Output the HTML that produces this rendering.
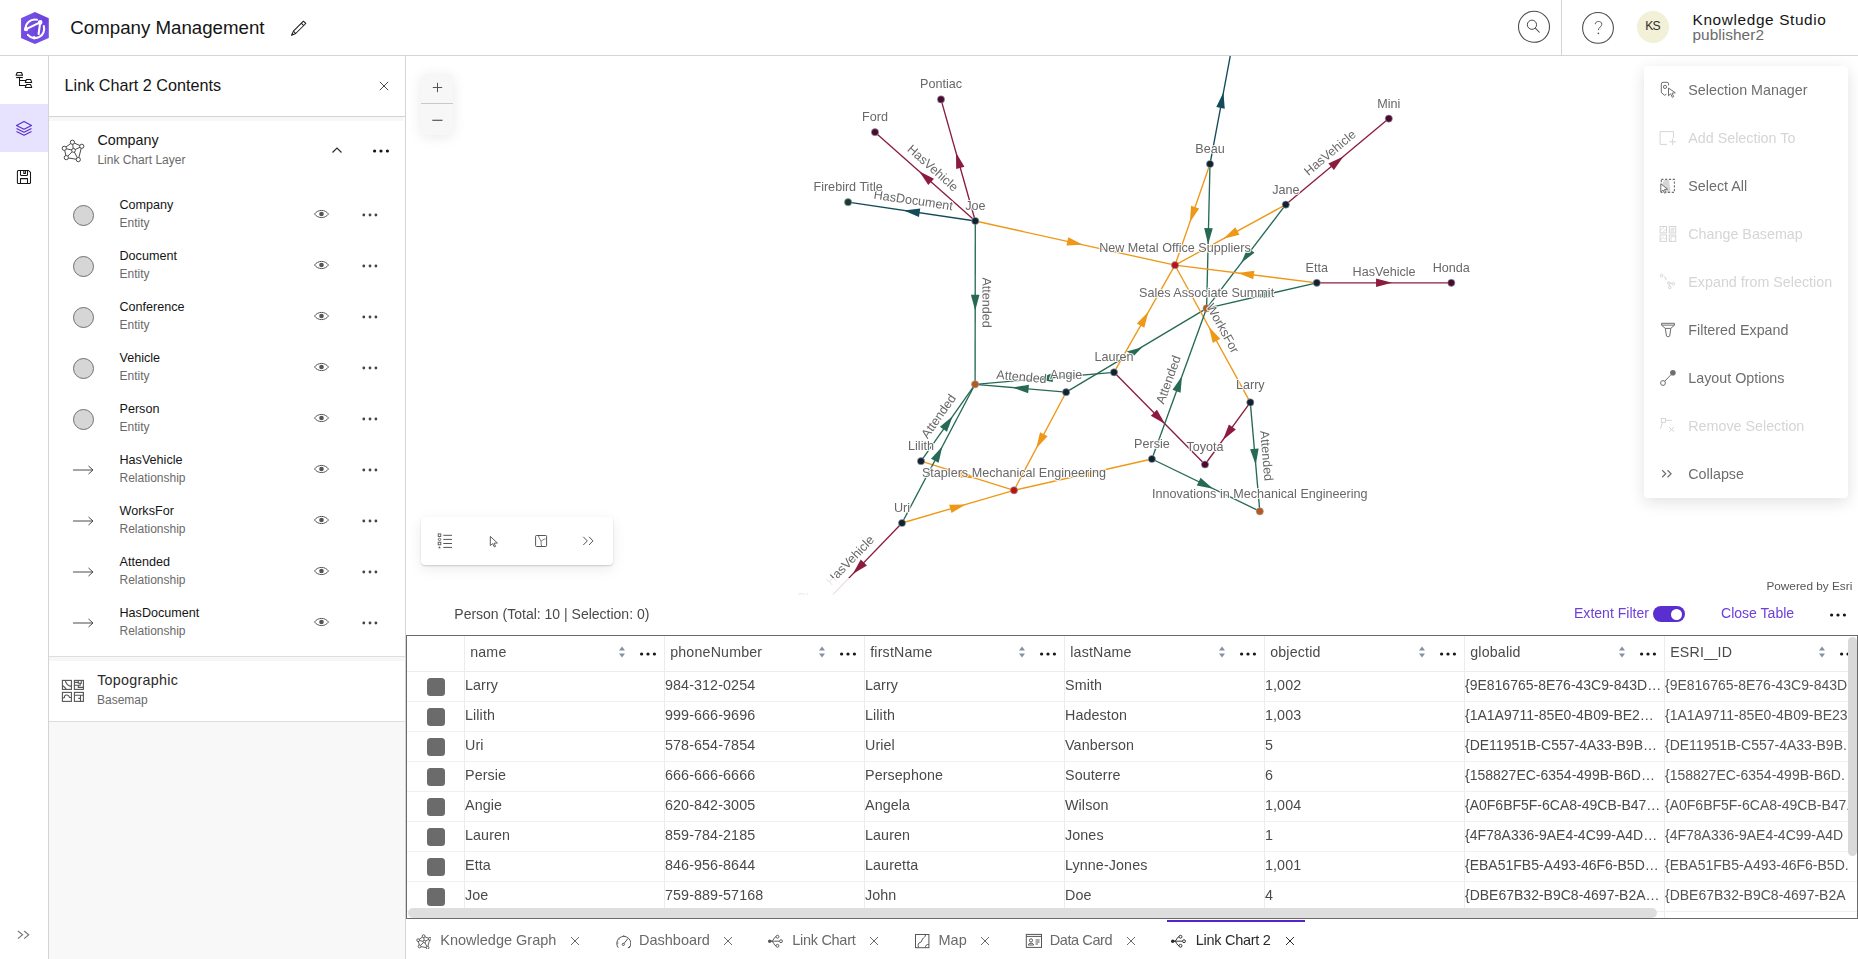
<!DOCTYPE html>
<html><head><meta charset="utf-8"><style>
html,body{margin:0;padding:0;width:1858px;height:959px;overflow:hidden;background:#fff;font-family:"Liberation Sans", sans-serif;}
.abs{position:absolute;}
.t{position:absolute;line-height:1;white-space:nowrap;}
#hdr{position:absolute;left:0;top:0;width:1858px;height:55px;border-bottom:1px solid #d4d4d4;background:#fff}
.gl{font-family:"Liberation Sans", sans-serif;font-size:12.6px;fill:#686868;paint-order:stroke;stroke:rgba(255,255,255,0.85);stroke-width:2.2px;stroke-linejoin:round}
</style></head><body>
<div id="hdr"></div>
<svg class="abs" style="left:0;top:0" width="60" height="56" viewBox="0 0 60 56">
<defs><linearGradient id="lg1" x1="0" y1="0" x2="1" y2="1"><stop offset="0" stop-color="#7752e6"/><stop offset="0.55" stop-color="#6b43dc"/><stop offset="1" stop-color="#7f58ee"/></linearGradient></defs>
<polygon points="35,12 48.8,18.2 48.8,37.9 35,44 21.1,37.9 21.1,18.2" fill="url(#lg1)"/>
<polygon points="35,12 21.1,18.2 21.1,37.9 35,44" fill="#7a55e8" opacity="0.35"/>
<g fill="none" stroke="#fff" stroke-width="2.1" stroke-linecap="round">
<path d="M25.64,29.61 A9.3,9.3 0 0 1 36.99,19.74"/>
<path d="M43.79,26.08 A9.3,9.3 0 0 1 27.88,34.9"/>
<path d="M26.1,29.1 L40.2,22.4 L38.6,34"/>
</g>
<g fill="#fff"><circle cx="26.1" cy="29.1" r="2.2"/><circle cx="40.2" cy="22.4" r="2.3"/><circle cx="34.1" cy="37.7" r="1.6"/></g>
</svg>
<div class="t" style="left:70.30px;top:19px;font-size:18.7px;color:#151515;">Company Management</div>
<svg class="abs" style="left:284px;top:14px" width="28" height="28" viewBox="0 0 28 28"><g fill="none" stroke="#1e1e1e" stroke-width="1.05" stroke-linejoin="round">
<path d="M19.4,7.2 L21.8,9.5 L11.7,19.5 L7.6,21.2 L9.4,17.1 Z"/><path d="M17.3,9.2 L19.7,11.6"/><path d="M9.4,17.1 L11.7,19.5"/></g><path d="M7.3,21.5 L8.2,19.3 L9.6,20.6 Z" fill="#1e1e1e"/></svg>
<svg class="abs" style="left:1516px;top:9px" width="36" height="36" viewBox="0 0 36 36"><circle cx="18" cy="17.8" r="15.5" fill="none" stroke="#4a4a4a" stroke-width="1.05"/>
<circle cx="15.95" cy="15.75" r="4.6" fill="none" stroke="#4a4a4a" stroke-width="1"/><path d="M19.3,19.2 L23.6,23.5" stroke="#4a4a4a" stroke-width="1.05"/></svg>
<div class="abs" style="left:1561px;top:0;width:1px;height:55px;background:#d4d4d4"></div>
<svg class="abs" style="left:1581px;top:11px" width="34" height="34" viewBox="0 0 34 34"><circle cx="17" cy="16.9" r="15.4" fill="none" stroke="#4a4a4a" stroke-width="1.05"/>
<path d="M14.2,13.2 C14.2,9.6 20.8,9.4 20.8,13.2 C20.8,15.8 17.6,16.2 17.3,19.2" fill="none" stroke="#555" stroke-width="0.95"/><circle cx="17.4" cy="22.3" r="0.85" fill="#555"/></svg>
<div class="abs" style="left:1637px;top:11px;width:32px;height:32px;border-radius:50%;background:#f2f0d6"></div>
<div class="t" style="left:1645.30px;top:20px;font-size:12.2px;color:#2e2e2e;letter-spacing:-0.9px;">KS</div>
<div class="t" style="left:1692.50px;top:12px;font-size:15.4px;color:#151515;letter-spacing:0.62px;">Knowledge Studio</div>
<div class="t" style="left:1692.50px;top:27px;font-size:15.4px;color:#6a6a6a;letter-spacing:0.05px;">publisher2</div>
<div class="abs" style="left:0;top:56px;width:48px;height:903px;background:#fff;border-right:1px solid #d4d4d4"></div>
<div class="abs" style="left:0;top:104px;width:48px;height:48px;background:#e7e2fd"></div>
<svg class="abs" style="left:12px;top:68px" width="24" height="24" viewBox="0 0 24 24"><g fill="none" stroke="#151515" stroke-width="1.05" stroke-linejoin="round">
<path d="M5.2,4.5 H9.5 L10.6,7.3 H4.1 Z"/><path d="M4.2,9.5 H10.8" stroke-width="1.2"/><path d="M7.5,9.5 V17.5 H14 M7.5,12.4 H14"/>
<path d="M14.5,11.5 H18.6 L19.7,14.4 H13.3 Z"/><path d="M14.5,16.5 H18.6 L19.7,19.4 H13.3 Z"/></g></svg>
<svg class="abs" style="left:12px;top:116px" width="24" height="24" viewBox="0 0 24 24"><g fill="none" stroke="#5a2fd0" stroke-width="1.1" stroke-linejoin="round">
<path d="M12,5.4 L19.5,9.4 L12,13.3 L4.5,9.4 Z"/><path d="M4.5,12.4 L12,16.3 L19.5,12.4"/><path d="M4.5,15.4 L12,19.3 L19.5,15.4"/></g></svg>
<svg class="abs" style="left:12px;top:165px" width="24" height="24" viewBox="0 0 24 24"><g fill="none" stroke="#151515" stroke-width="1.05" stroke-linejoin="round">
<path d="M6.4,5.5 H16.6 L18.5,7.4 V17.4 Q18.5,18.4 17.5,18.4 H6.4 Q5.4,18.4 5.4,17.4 V6.5 Q5.4,5.5 6.4,5.5 Z"/>
<path d="M8.5,5.5 V9.5 Q8.5,10.5 9.5,10.5 H14.5 Q15.5,10.5 15.5,9.5 V5.5"/><path d="M11.8,5.5 V8.4 H13.4 V5.5"/>
<path d="M8.5,18.4 V13.6 H15.5 V18.4"/></g></svg>
<svg class="abs" style="left:16px;top:929px" width="16" height="12" viewBox="0 0 16 12"><g fill="none" stroke="#7a7a7a" stroke-width="1.2"><path d="M1.9,2 L6.6,5.8 L1.9,9.6"/><path d="M8.2,2 L12.7,5.8 L8.2,9.6"/></g></svg>
<div class="abs" style="left:49px;top:56px;width:356px;height:903px;background:#f8f8f8;border-right:1px solid #d4d4d4"></div>
<div class="abs" style="left:49px;top:56px;width:356px;height:60px;background:#fff;border-bottom:1px solid #d4d4d4"></div>
<div class="abs" style="left:49px;top:117px;width:356px;height:539px;background:#fff"></div>
<div class="abs" style="left:49px;top:117px;width:355px;height:4px;background:#f7f7f7"></div>
<div class="t" style="left:64.60px;top:77px;font-size:16.2px;color:#151515;">Link Chart 2 Contents</div>
<svg class="abs" style="left:379px;top:81px" width="10" height="10" viewBox="0 0 10 10"><path d="M0.8,0.8 L9.2,9.2 M9.2,0.8 L0.8,9.2" stroke="#4a4a4a" stroke-width="1"/></svg>
<svg class="abs" style="left:58px;top:136px" width="30" height="30" viewBox="0 0 30 30"><g fill="#fff" stroke="#4a4a4a" stroke-width="1">
<path d="M14.4,6.25 L6.25,12.3 M14.4,6.25 L23.75,10.3 M14.4,6.25 L15.5,14.4 M6.25,12.3 L15.5,14.4 M6.25,12.3 L8.3,21.6 M23.75,10.3 L15.5,14.4 M23.75,10.3 L20.3,23.6 M15.5,14.4 L8.3,21.6 M15.5,14.4 L20.3,23.6 M8.3,21.6 L20.3,23.6" fill="none"/>
<circle cx="14.4" cy="6.25" r="2.1"/><circle cx="23.75" cy="10.3" r="2.1"/><circle cx="6.25" cy="12.3" r="2.1"/><circle cx="15.5" cy="14.4" r="1.9"/><circle cx="8.3" cy="21.6" r="2.1"/><circle cx="20.3" cy="23.6" r="2.1"/></g></svg>
<div class="t" style="left:97.40px;top:133px;font-size:14.3px;color:#151515;">Company</div>
<div class="t" style="left:97.40px;top:154px;font-size:12px;color:#6a6a6a;">Link Chart Layer</div>
<svg class="abs" style="left:331px;top:145px" width="12" height="10" viewBox="0 0 12 10"><path d="M1.5,7.5 L6,3 L10.5,7.5" fill="none" stroke="#2b2b2b" stroke-width="1.2"/></svg>
<svg class="abs" style="left:372px;top:148px" width="18" height="6" viewBox="0 0 18 6"><g fill="#151515"><circle cx="2.6" cy="3" r="1.6"/><circle cx="9" cy="3" r="1.6"/><circle cx="15.4" cy="3" r="1.6"/></g></svg>
<div class="abs" style="left:73.2px;top:204.8px;width:19px;height:19px;border-radius:50%;background:#d6d6d6;border:1px solid #707070"></div>
<div class="t" style="left:119.50px;top:199px;font-size:12.6px;color:#151515;">Company</div>
<div class="t" style="left:119.50px;top:217px;font-size:12px;color:#6a6a6a;">Entity</div>
<svg class="abs" style="left:312px;top:207.40px" width="19" height="14" viewBox="0 0 19 14"><path d="M2.5,7 C6,2.2 13,2.2 16.5,7 C13,11.8 6,11.8 2.5,7 Z" fill="none" stroke="#555" stroke-width="1"/><circle cx="9.5" cy="7" r="2.3" fill="#555"/></svg>
<svg class="abs" style="left:361px;top:211.80px" width="18" height="6" viewBox="0 0 18 6"><g fill="#444"><circle cx="2.8" cy="3" r="1.4"/><circle cx="9" cy="3" r="1.4"/><circle cx="14.9" cy="3" r="1.4"/></g></svg>
<div class="abs" style="left:73.2px;top:255.8px;width:19px;height:19px;border-radius:50%;background:#d6d6d6;border:1px solid #707070"></div>
<div class="t" style="left:119.50px;top:250px;font-size:12.6px;color:#151515;">Document</div>
<div class="t" style="left:119.50px;top:268px;font-size:12px;color:#6a6a6a;">Entity</div>
<svg class="abs" style="left:312px;top:258.40px" width="19" height="14" viewBox="0 0 19 14"><path d="M2.5,7 C6,2.2 13,2.2 16.5,7 C13,11.8 6,11.8 2.5,7 Z" fill="none" stroke="#555" stroke-width="1"/><circle cx="9.5" cy="7" r="2.3" fill="#555"/></svg>
<svg class="abs" style="left:361px;top:262.80px" width="18" height="6" viewBox="0 0 18 6"><g fill="#444"><circle cx="2.8" cy="3" r="1.4"/><circle cx="9" cy="3" r="1.4"/><circle cx="14.9" cy="3" r="1.4"/></g></svg>
<div class="abs" style="left:73.2px;top:306.8px;width:19px;height:19px;border-radius:50%;background:#d6d6d6;border:1px solid #707070"></div>
<div class="t" style="left:119.50px;top:301px;font-size:12.6px;color:#151515;">Conference</div>
<div class="t" style="left:119.50px;top:319px;font-size:12px;color:#6a6a6a;">Entity</div>
<svg class="abs" style="left:312px;top:309.40px" width="19" height="14" viewBox="0 0 19 14"><path d="M2.5,7 C6,2.2 13,2.2 16.5,7 C13,11.8 6,11.8 2.5,7 Z" fill="none" stroke="#555" stroke-width="1"/><circle cx="9.5" cy="7" r="2.3" fill="#555"/></svg>
<svg class="abs" style="left:361px;top:313.80px" width="18" height="6" viewBox="0 0 18 6"><g fill="#444"><circle cx="2.8" cy="3" r="1.4"/><circle cx="9" cy="3" r="1.4"/><circle cx="14.9" cy="3" r="1.4"/></g></svg>
<div class="abs" style="left:73.2px;top:357.8px;width:19px;height:19px;border-radius:50%;background:#d6d6d6;border:1px solid #707070"></div>
<div class="t" style="left:119.50px;top:352px;font-size:12.6px;color:#151515;">Vehicle</div>
<div class="t" style="left:119.50px;top:370px;font-size:12px;color:#6a6a6a;">Entity</div>
<svg class="abs" style="left:312px;top:360.40px" width="19" height="14" viewBox="0 0 19 14"><path d="M2.5,7 C6,2.2 13,2.2 16.5,7 C13,11.8 6,11.8 2.5,7 Z" fill="none" stroke="#555" stroke-width="1"/><circle cx="9.5" cy="7" r="2.3" fill="#555"/></svg>
<svg class="abs" style="left:361px;top:364.80px" width="18" height="6" viewBox="0 0 18 6"><g fill="#444"><circle cx="2.8" cy="3" r="1.4"/><circle cx="9" cy="3" r="1.4"/><circle cx="14.9" cy="3" r="1.4"/></g></svg>
<div class="abs" style="left:73.2px;top:408.8px;width:19px;height:19px;border-radius:50%;background:#d6d6d6;border:1px solid #707070"></div>
<div class="t" style="left:119.50px;top:403px;font-size:12.6px;color:#151515;">Person</div>
<div class="t" style="left:119.50px;top:421px;font-size:12px;color:#6a6a6a;">Entity</div>
<svg class="abs" style="left:312px;top:411.40px" width="19" height="14" viewBox="0 0 19 14"><path d="M2.5,7 C6,2.2 13,2.2 16.5,7 C13,11.8 6,11.8 2.5,7 Z" fill="none" stroke="#555" stroke-width="1"/><circle cx="9.5" cy="7" r="2.3" fill="#555"/></svg>
<svg class="abs" style="left:361px;top:415.80px" width="18" height="6" viewBox="0 0 18 6"><g fill="#444"><circle cx="2.8" cy="3" r="1.4"/><circle cx="9" cy="3" r="1.4"/><circle cx="14.9" cy="3" r="1.4"/></g></svg>
<svg class="abs" style="left:72px;top:464.3px" width="24" height="12" viewBox="0 0 24 12"><path d="M1,6 H21 M16.5,2 L21,6 L16.5,10" fill="none" stroke="#4a4a4a" stroke-width="1"/></svg>
<div class="t" style="left:119.50px;top:454px;font-size:12.6px;color:#151515;">HasVehicle</div>
<div class="t" style="left:119.50px;top:472px;font-size:12px;color:#6a6a6a;">Relationship</div>
<svg class="abs" style="left:312px;top:462.40px" width="19" height="14" viewBox="0 0 19 14"><path d="M2.5,7 C6,2.2 13,2.2 16.5,7 C13,11.8 6,11.8 2.5,7 Z" fill="none" stroke="#555" stroke-width="1"/><circle cx="9.5" cy="7" r="2.3" fill="#555"/></svg>
<svg class="abs" style="left:361px;top:466.80px" width="18" height="6" viewBox="0 0 18 6"><g fill="#444"><circle cx="2.8" cy="3" r="1.4"/><circle cx="9" cy="3" r="1.4"/><circle cx="14.9" cy="3" r="1.4"/></g></svg>
<svg class="abs" style="left:72px;top:515.3px" width="24" height="12" viewBox="0 0 24 12"><path d="M1,6 H21 M16.5,2 L21,6 L16.5,10" fill="none" stroke="#4a4a4a" stroke-width="1"/></svg>
<div class="t" style="left:119.50px;top:505px;font-size:12.6px;color:#151515;">WorksFor</div>
<div class="t" style="left:119.50px;top:523px;font-size:12px;color:#6a6a6a;">Relationship</div>
<svg class="abs" style="left:312px;top:513.40px" width="19" height="14" viewBox="0 0 19 14"><path d="M2.5,7 C6,2.2 13,2.2 16.5,7 C13,11.8 6,11.8 2.5,7 Z" fill="none" stroke="#555" stroke-width="1"/><circle cx="9.5" cy="7" r="2.3" fill="#555"/></svg>
<svg class="abs" style="left:361px;top:517.80px" width="18" height="6" viewBox="0 0 18 6"><g fill="#444"><circle cx="2.8" cy="3" r="1.4"/><circle cx="9" cy="3" r="1.4"/><circle cx="14.9" cy="3" r="1.4"/></g></svg>
<svg class="abs" style="left:72px;top:566.3px" width="24" height="12" viewBox="0 0 24 12"><path d="M1,6 H21 M16.5,2 L21,6 L16.5,10" fill="none" stroke="#4a4a4a" stroke-width="1"/></svg>
<div class="t" style="left:119.50px;top:556px;font-size:12.6px;color:#151515;">Attended</div>
<div class="t" style="left:119.50px;top:574px;font-size:12px;color:#6a6a6a;">Relationship</div>
<svg class="abs" style="left:312px;top:564.40px" width="19" height="14" viewBox="0 0 19 14"><path d="M2.5,7 C6,2.2 13,2.2 16.5,7 C13,11.8 6,11.8 2.5,7 Z" fill="none" stroke="#555" stroke-width="1"/><circle cx="9.5" cy="7" r="2.3" fill="#555"/></svg>
<svg class="abs" style="left:361px;top:568.80px" width="18" height="6" viewBox="0 0 18 6"><g fill="#444"><circle cx="2.8" cy="3" r="1.4"/><circle cx="9" cy="3" r="1.4"/><circle cx="14.9" cy="3" r="1.4"/></g></svg>
<svg class="abs" style="left:72px;top:617.3px" width="24" height="12" viewBox="0 0 24 12"><path d="M1,6 H21 M16.5,2 L21,6 L16.5,10" fill="none" stroke="#4a4a4a" stroke-width="1"/></svg>
<div class="t" style="left:119.50px;top:607px;font-size:12.6px;color:#151515;">HasDocument</div>
<div class="t" style="left:119.50px;top:625px;font-size:12px;color:#6a6a6a;">Relationship</div>
<svg class="abs" style="left:312px;top:615.40px" width="19" height="14" viewBox="0 0 19 14"><path d="M2.5,7 C6,2.2 13,2.2 16.5,7 C13,11.8 6,11.8 2.5,7 Z" fill="none" stroke="#555" stroke-width="1"/><circle cx="9.5" cy="7" r="2.3" fill="#555"/></svg>
<svg class="abs" style="left:361px;top:619.80px" width="18" height="6" viewBox="0 0 18 6"><g fill="#444"><circle cx="2.8" cy="3" r="1.4"/><circle cx="9" cy="3" r="1.4"/><circle cx="14.9" cy="3" r="1.4"/></g></svg>
<div class="abs" style="left:49px;top:656px;width:356px;height:1px;background:#dedede"></div>
<div class="abs" style="left:49px;top:657px;width:356px;height:64px;background:#fff;border-bottom:1px solid #dedede"></div>
<div class="abs" style="left:49px;top:657px;width:355px;height:4px;background:#f7f7f7"></div>
<svg class="abs" style="left:58px;top:676px" width="30" height="30" viewBox="0 0 30 30"><g fill="none" stroke="#555" stroke-width="1.1">
<rect x="4.4" y="4.4" width="9" height="9"/><rect x="16.4" y="4.4" width="9" height="9"/><rect x="4.4" y="16.4" width="9" height="9"/><rect x="16.4" y="16.4" width="9" height="9"/>
<path d="M7.3,4.4 C8,8 10,10 13.4,10.4 M4.4,9.4 C6,10.5 7.5,11.5 8.4,13.4"/>
<path d="M16.4,6.4 H20.3 M20.3,4.4 V7.3 H23.3 V4.4 M16.4,9.3 H22.2 V7.3 M20.3,9.3 V11.4 H25.4"/>
<path d="M4.4,22.2 L6.4,21.6 L6.6,20 C7.5,18.6 9.8,18.6 10.8,20 L11.6,21.5 H13.4"/>
<path d="M16.4,19.3 H25.4 M22.5,19.3 V25.4 M20.3,22.4 H22.5"/></g></svg>
<div class="t" style="left:97.20px;top:673px;font-size:14.3px;color:#2b2b2b;letter-spacing:0.28px;">Topographic</div>
<div class="t" style="left:97.00px;top:694px;font-size:12px;color:#6a6a6a;">Basemap</div>
<div class="abs" style="left:406px;top:56px;width:1452px;height:539px;overflow:hidden;background:#fff">
<svg class="abs" style="left:-406px;top:-56px;will-change:transform" width="1858" height="959" viewBox="0 0 1858 959">
<line x1="975.3" y1="221.0" x2="941.0" y2="99.4" stroke="#8c1c3e" stroke-width="1.35"/>
<line x1="975.3" y1="221.0" x2="875.0" y2="132.2" stroke="#8c1c3e" stroke-width="1.35"/>
<line x1="975.3" y1="221.0" x2="848.1" y2="202.2" stroke="#144b5b" stroke-width="1.35"/>
<line x1="975.3" y1="221.0" x2="1175.0" y2="265.2" stroke="#ee9817" stroke-width="1.35"/>
<line x1="975.3" y1="221.0" x2="975.1" y2="384.3" stroke="#266a56" stroke-width="1.35"/>
<line x1="1210.0" y1="164.0" x2="1234.0" y2="36.0" stroke="#144b5b" stroke-width="1.35"/>
<line x1="1210.0" y1="164.0" x2="1175.0" y2="265.2" stroke="#ee9817" stroke-width="1.35"/>
<line x1="1210.0" y1="164.0" x2="1206.6" y2="308.3" stroke="#266a56" stroke-width="1.35"/>
<line x1="1285.8" y1="204.6" x2="1388.8" y2="118.6" stroke="#8c1c3e" stroke-width="1.35"/>
<line x1="1285.8" y1="204.6" x2="1175.0" y2="265.2" stroke="#ee9817" stroke-width="1.35"/>
<line x1="1285.8" y1="204.6" x2="1206.6" y2="308.3" stroke="#266a56" stroke-width="1.35"/>
<line x1="1316.8" y1="282.8" x2="1451.3" y2="282.8" stroke="#8c1c3e" stroke-width="1.35"/>
<line x1="1316.8" y1="282.8" x2="1175.0" y2="265.2" stroke="#ee9817" stroke-width="1.35"/>
<line x1="1316.8" y1="282.8" x2="1206.6" y2="308.3" stroke="#266a56" stroke-width="1.35"/>
<line x1="1114.0" y1="372.3" x2="1175.0" y2="265.2" stroke="#ee9817" stroke-width="1.35"/>
<line x1="1114.0" y1="372.3" x2="975.1" y2="384.3" stroke="#266a56" stroke-width="1.35"/>
<line x1="1114.0" y1="372.3" x2="1205.0" y2="464.5" stroke="#8c1c3e" stroke-width="1.35"/>
<line x1="1066.1" y1="392.2" x2="1206.6" y2="308.3" stroke="#266a56" stroke-width="1.35"/>
<line x1="1066.1" y1="392.2" x2="975.1" y2="384.3" stroke="#266a56" stroke-width="1.35"/>
<line x1="1066.1" y1="392.2" x2="1014.0" y2="490.3" stroke="#ee9817" stroke-width="1.35"/>
<line x1="1250.3" y1="402.4" x2="1175.0" y2="265.2" stroke="#ee9817" stroke-width="1.35"/>
<line x1="1250.3" y1="402.4" x2="1205.0" y2="464.5" stroke="#8c1c3e" stroke-width="1.35"/>
<line x1="1250.3" y1="402.4" x2="1259.8" y2="511.3" stroke="#266a56" stroke-width="1.35"/>
<line x1="1151.9" y1="459.0" x2="1206.6" y2="308.3" stroke="#266a56" stroke-width="1.35"/>
<line x1="1151.9" y1="459.0" x2="1259.8" y2="511.3" stroke="#266a56" stroke-width="1.35"/>
<line x1="1151.9" y1="459.0" x2="1014.0" y2="490.3" stroke="#ee9817" stroke-width="1.35"/>
<line x1="921.0" y1="461.2" x2="975.1" y2="384.3" stroke="#266a56" stroke-width="1.35"/>
<line x1="921.0" y1="461.2" x2="1014.0" y2="490.3" stroke="#ee9817" stroke-width="1.35"/>
<line x1="902.0" y1="523.0" x2="975.1" y2="384.3" stroke="#266a56" stroke-width="1.35"/>
<line x1="902.0" y1="523.0" x2="1014.0" y2="490.3" stroke="#ee9817" stroke-width="1.35"/>
<line x1="902.0" y1="523.0" x2="814.6" y2="613.6" stroke="#8c1c3e" stroke-width="1.35"/>
<polygon points="8,0 -8,-4.3 -8,4.3" fill="#8c1c3e" transform="translate(958.15,160.20) rotate(-105.75)"/>
<polygon points="8,0 -8,-4.3 -8,4.3" fill="#8c1c3e" transform="translate(925.15,176.60) rotate(-138.48)"/>
<polygon points="8,0 -8,-4.3 -8,4.3" fill="#144b5b" transform="translate(911.70,211.60) rotate(-171.59)"/>
<polygon points="8,0 -8,-4.3 -8,4.3" fill="#ee9817" transform="translate(1075.15,243.10) rotate(12.48)"/>
<polygon points="8,0 -8,-4.3 -8,4.3" fill="#266a56" transform="translate(975.20,302.65) rotate(90.07)"/>
<polygon points="8,0 -8,-4.3 -8,4.3" fill="#144b5b" transform="translate(1222.00,100.00) rotate(-79.38)"/>
<polygon points="8,0 -8,-4.3 -8,4.3" fill="#ee9817" transform="translate(1192.50,214.60) rotate(109.08)"/>
<polygon points="8,0 -8,-4.3 -8,4.3" fill="#266a56" transform="translate(1208.30,236.15) rotate(91.35)"/>
<polygon points="8,0 -8,-4.3 -8,4.3" fill="#8c1c3e" transform="translate(1337.30,161.60) rotate(-39.86)"/>
<polygon points="8,0 -8,-4.3 -8,4.3" fill="#ee9817" transform="translate(1230.40,234.90) rotate(151.32)"/>
<polygon points="8,0 -8,-4.3 -8,4.3" fill="#266a56" transform="translate(1246.20,256.45) rotate(127.37)"/>
<polygon points="8,0 -8,-4.3 -8,4.3" fill="#8c1c3e" transform="translate(1384.05,282.80) rotate(0.00)"/>
<polygon points="8,0 -8,-4.3 -8,4.3" fill="#ee9817" transform="translate(1245.90,274.00) rotate(-172.92)"/>
<polygon points="8,0 -8,-4.3 -8,4.3" fill="#266a56" transform="translate(1261.70,295.55) rotate(166.97)"/>
<polygon points="8,0 -8,-4.3 -8,4.3" fill="#ee9817" transform="translate(1144.50,318.75) rotate(-60.34)"/>
<polygon points="8,0 -8,-4.3 -8,4.3" fill="#266a56" transform="translate(1044.55,378.30) rotate(175.06)"/>
<polygon points="8,0 -8,-4.3 -8,4.3" fill="#8c1c3e" transform="translate(1159.50,418.40) rotate(45.38)"/>
<polygon points="1126.7,351.4 1142.3,347.2 1134.2,355.5" fill="#266a56"/>
<polygon points="8,0 -8,-4.3 -8,4.3" fill="#266a56" transform="translate(1020.60,388.25) rotate(-175.04)"/>
<polygon points="8,0 -8,-4.3 -8,4.3" fill="#ee9817" transform="translate(1040.05,441.25) rotate(117.97)"/>
<polygon points="8,0 -8,-4.3 -8,4.3" fill="#ee9817" transform="translate(1212.65,333.80) rotate(-118.76)"/>
<polygon points="8,0 -8,-4.3 -8,4.3" fill="#8c1c3e" transform="translate(1227.65,433.45) rotate(126.11)"/>
<polygon points="8,0 -8,-4.3 -8,4.3" fill="#266a56" transform="translate(1255.05,456.85) rotate(85.01)"/>
<polygon points="8,0 -8,-4.3 -8,4.3" fill="#266a56" transform="translate(1179.25,383.65) rotate(-70.05)"/>
<polygon points="8,0 -8,-4.3 -8,4.3" fill="#266a56" transform="translate(1205.85,485.15) rotate(25.86)"/>
<polygon points="8,0 -8,-4.3 -8,4.3" fill="#ee9817" transform="translate(1082.95,474.65) rotate(167.21)"/>
<polygon points="8,0 -8,-4.3 -8,4.3" fill="#266a56" transform="translate(948.05,422.75) rotate(-54.87)"/>
<polygon points="8,0 -8,-4.3 -8,4.3" fill="#ee9817" transform="translate(967.50,475.75) rotate(17.38)"/>
<polygon points="8,0 -8,-4.3 -8,4.3" fill="#266a56" transform="translate(938.55,453.65) rotate(-62.21)"/>
<polygon points="8,0 -8,-4.3 -8,4.3" fill="#ee9817" transform="translate(958.00,506.65) rotate(-16.28)"/>
<polygon points="8,0 -8,-4.3 -8,4.3" fill="#8c1c3e" transform="translate(858.30,568.30) rotate(133.97)"/>
<circle cx="941.0" cy="99.4" r="3.6" fill="#4b0b31" stroke="rgba(150,162,172,0.7)" stroke-width="0.9"/>
<circle cx="875.0" cy="132.2" r="3.6" fill="#4b0b31" stroke="rgba(150,162,172,0.7)" stroke-width="0.9"/>
<circle cx="848.1" cy="202.2" r="3.6" fill="#173d2f" stroke="rgba(150,162,172,0.7)" stroke-width="0.9"/>
<circle cx="975.3" cy="221.0" r="3.6" fill="#132231" stroke="rgba(150,162,172,0.7)" stroke-width="0.9"/>
<circle cx="1210.0" cy="164.0" r="3.6" fill="#132231" stroke="rgba(150,162,172,0.7)" stroke-width="0.9"/>
<circle cx="1234.0" cy="36.0" r="3.6" fill="#173d2f" stroke="rgba(150,162,172,0.7)" stroke-width="0.9"/>
<circle cx="1388.8" cy="118.6" r="3.6" fill="#4b0b31" stroke="rgba(150,162,172,0.7)" stroke-width="0.9"/>
<circle cx="1285.8" cy="204.6" r="3.6" fill="#132231" stroke="rgba(150,162,172,0.7)" stroke-width="0.9"/>
<circle cx="1175.0" cy="265.2" r="3.6" fill="#b81414" stroke="rgba(150,162,172,0.7)" stroke-width="0.9"/>
<circle cx="1316.8" cy="282.8" r="3.6" fill="#132231" stroke="rgba(150,162,172,0.7)" stroke-width="0.9"/>
<circle cx="1451.3" cy="282.8" r="3.6" fill="#4b0b31" stroke="rgba(150,162,172,0.7)" stroke-width="0.9"/>
<circle cx="1206.6" cy="308.3" r="3.6" fill="#b9581c" stroke="rgba(150,162,172,0.7)" stroke-width="0.9"/>
<circle cx="1114.0" cy="372.3" r="3.6" fill="#132231" stroke="rgba(150,162,172,0.7)" stroke-width="0.9"/>
<circle cx="1066.1" cy="392.2" r="3.6" fill="#132231" stroke="rgba(150,162,172,0.7)" stroke-width="0.9"/>
<circle cx="975.1" cy="384.3" r="3.6" fill="#b9581c" stroke="rgba(150,162,172,0.7)" stroke-width="0.9"/>
<circle cx="1250.3" cy="402.4" r="3.6" fill="#132231" stroke="rgba(150,162,172,0.7)" stroke-width="0.9"/>
<circle cx="921.0" cy="461.2" r="3.6" fill="#132231" stroke="rgba(150,162,172,0.7)" stroke-width="0.9"/>
<circle cx="1151.9" cy="459.0" r="3.6" fill="#132231" stroke="rgba(150,162,172,0.7)" stroke-width="0.9"/>
<circle cx="1205.0" cy="464.5" r="3.6" fill="#4b0b31" stroke="rgba(150,162,172,0.7)" stroke-width="0.9"/>
<circle cx="1014.0" cy="490.3" r="3.6" fill="#b81414" stroke="rgba(150,162,172,0.7)" stroke-width="0.9"/>
<circle cx="1259.8" cy="511.3" r="3.6" fill="#b9581c" stroke="rgba(150,162,172,0.7)" stroke-width="0.9"/>
<circle cx="902.0" cy="523.0" r="3.6" fill="#132231" stroke="rgba(150,162,172,0.7)" stroke-width="0.9"/>
<circle cx="814.6" cy="613.6" r="3.6" fill="#4b0b31" stroke="rgba(150,162,172,0.7)" stroke-width="0.9"/>
<text class="gl" transform="translate(925.15,176.60) rotate(41.52)" x="0" y="-7.3" text-anchor="middle">HasVehicle</text>
<text class="gl" transform="translate(911.70,211.60) rotate(8.41)" x="0" y="-7.3" text-anchor="middle">HasDocument</text>
<text class="gl" transform="translate(975.20,302.65) rotate(90.07)" x="0" y="-7.3" text-anchor="middle">Attended</text>
<text class="gl" transform="translate(1337.30,161.60) rotate(-39.86)" x="0" y="-7.3" text-anchor="middle">HasVehicle</text>
<text class="gl" transform="translate(1384.05,282.80) rotate(0.00)" x="0" y="-7.3" text-anchor="middle">HasVehicle</text>
<text class="gl" transform="translate(1020.60,388.25) rotate(4.96)" x="0" y="-7.3" text-anchor="middle">Attended</text>
<text class="gl" transform="translate(1212.65,333.80) rotate(61.24)" x="0" y="-7.3" text-anchor="middle">WorksFor</text>
<text class="gl" transform="translate(1255.05,456.85) rotate(85.01)" x="0" y="-7.3" text-anchor="middle">Attended</text>
<text class="gl" transform="translate(1179.25,383.65) rotate(-70.05)" x="0" y="-7.3" text-anchor="middle">Attended</text>
<text class="gl" transform="translate(948.05,422.75) rotate(-54.87)" x="0" y="-7.3" text-anchor="middle">Attended</text>
<text class="gl" transform="translate(858.30,568.30) rotate(-46.03)" x="0" y="-7.3" text-anchor="middle">HasVehicle</text>
<text class="gl" x="941.0" y="88.40" text-anchor="middle">Pontiac</text>
<text class="gl" x="875.0" y="121.20" text-anchor="middle">Ford</text>
<text class="gl" x="848.1" y="191.20" text-anchor="middle">Firebird Title</text>
<text class="gl" x="975.3" y="210.00" text-anchor="middle">Joe</text>
<text class="gl" x="1210.0" y="153.00" text-anchor="middle">Beau</text>
<text class="gl" x="1388.8" y="107.60" text-anchor="middle">Mini</text>
<text class="gl" x="1285.8" y="193.60" text-anchor="middle">Jane</text>
<text class="gl" x="1175.0" y="251.70" text-anchor="middle">New Metal Office Suppliers</text>
<text class="gl" x="1316.8" y="271.80" text-anchor="middle">Etta</text>
<text class="gl" x="1451.3" y="271.80" text-anchor="middle">Honda</text>
<text class="gl" x="1206.6" y="297.30" text-anchor="middle">Sales Associate Summit</text>
<text class="gl" x="1114.0" y="361.30" text-anchor="middle">Lauren</text>
<text class="gl" x="1066.1" y="378.70" text-anchor="middle">Angie</text>
<text class="gl" x="1250.3" y="388.90" text-anchor="middle">Larry</text>
<text class="gl" x="921.0" y="450.20" text-anchor="middle">Lilith</text>
<text class="gl" x="1151.9" y="448.00" text-anchor="middle">Persie</text>
<text class="gl" x="1205.0" y="451.00" text-anchor="middle">Toyota</text>
<text class="gl" x="1014.0" y="476.80" text-anchor="middle">Staplers Mechanical Engineering</text>
<text class="gl" x="1259.8" y="497.80" text-anchor="middle">Innovations in Mechanical Engineering</text>
<text class="gl" x="902.0" y="512.00" text-anchor="middle">Uri</text>
<text class="gl" x="814.6" y="601.70" text-anchor="middle">Chevy</text>
</svg>
<div class="abs" style="left:0;top:522px;width:1452px;height:17px;background:rgba(255,255,255,0.86)"></div>
</div>
<div class="t" style="right:5.70px;top:581px;font-size:11.8px;color:#555;">Powered by Esri</div>
<div class="abs" style="left:421px;top:74px;width:32px;height:61px;background:#f7f7f7;border-radius:5px;box-shadow:0 2px 14px rgba(0,0,0,0.09)"></div>
<div class="abs" style="left:421px;top:103px;width:32px;height:1px;background:#cacaca"></div>
<svg class="abs" style="left:432px;top:82px" width="11" height="11" viewBox="0 0 11 11"><path d="M5.5,0.8 V10.2 M0.8,5.5 H10.2" stroke="#555" stroke-width="1"/></svg>
<svg class="abs" style="left:432px;top:115px" width="11" height="11" viewBox="0 0 11 11"><path d="M0.3,5.3 H10.5" stroke="#555" stroke-width="1.2"/></svg>
<div class="abs" style="left:421px;top:517px;width:192px;height:48px;background:#fff;border-radius:4px;box-shadow:0 1px 2px rgba(0,0,0,0.18),0 4px 14px rgba(0,0,0,0.08)"></div>
<svg class="abs" style="left:436px;top:533px" width="18" height="17" viewBox="0 0 18 17"><g fill="none" stroke="#555" stroke-width="0.9"><rect x="2.2" y="0.9" width="2.6" height="2.6"/><circle cx="3.5" cy="6.4" r="1.2"/><rect x="2.2" y="9.2" width="2.6" height="2.6"/><path d="M7.3,2.3 H16 M7.3,6.4 H16 M7.3,10.5 H16 M7.3,14.4 H16" stroke-width="1"/></g><path d="M2.1,15.3 L3.5,13.3 L4.9,15.3 Z" fill="#555"/></svg>
<svg class="abs" style="left:488px;top:535px" width="12" height="14" viewBox="0 0 12 14"><path d="M2.3,1.4 L2.3,10.6 L4.6,8.7 L6.4,12 L7.6,11.4 L6,8.2 L9.4,8 Z" fill="none" stroke="#555" stroke-width="0.95" stroke-linejoin="round"/></svg>
<svg class="abs" style="left:534px;top:534px" width="14" height="14" viewBox="0 0 14 14"><g fill="none" stroke="#555" stroke-width="1"><rect x="1.6" y="1.5" width="11" height="11" rx="0.8"/><path d="M4.6,2 C5,4.5 6.5,5.5 7,7.5 C7.3,9 6.8,10.5 7.8,12.3 M7,7.5 C8,6.5 9.5,5.2 11.5,4.8" stroke-width="0.8"/></g></svg>
<svg class="abs" style="left:582px;top:535px" width="13" height="12" viewBox="0 0 13 12"><g fill="none" stroke="#555" stroke-width="1"><path d="M1.3,1.8 L5.3,5.9 L1.3,10"/><path d="M7,1.8 L11,5.9 L7,10"/></g></svg>
<div class="abs" style="left:1644px;top:66px;width:204px;height:432px;background:#fff;border-radius:4px;box-shadow:0 4px 16px rgba(0,0,0,0.12)"></div>
<svg class="abs" style="left:1655px;top:76.0px" width="26" height="26" viewBox="0 0 26 26"><g stroke="#6e6e6e" stroke-width="1" fill="#6e6e6e"><path d="M13.6,9.4 V7.8 Q13.6,6.3 12,6.3 H8 Q6.3,6.3 6.3,8 V16.6 L9.6,19.3 L11.4,18.2" fill="none"/><circle cx="10" cy="10.9" r="1.6" fill="none"/><path d="M13.5,12 V19.8 L15.6,17.8 L17.3,21.3 L18.7,20.6 L17.1,17.2 L20.3,16.8 Z" fill="none" stroke-linejoin="round"/></g></svg>
<div class="t" style="left:1688.30px;top:83px;font-size:14.3px;color:#6e6e6e;">Selection Manager</div>
<svg class="abs" style="left:1655px;top:124.0px" width="26" height="26" viewBox="0 0 26 26"><g stroke="#d5d5d5" stroke-width="1" fill="#d5d5d5"><path d="M18.5,14 V7.6 H5.1 V20.4 H12" fill="none"/><path d="M14.3,17.8 H21 M17.65,14.6 V21.1" fill="none"/></g></svg>
<div class="t" style="left:1688.30px;top:131px;font-size:14.3px;color:#d5d5d5;">Add Selection To</div>
<svg class="abs" style="left:1655px;top:172.0px" width="26" height="26" viewBox="0 0 26 26"><g stroke="#6e6e6e" stroke-width="1" fill="#6e6e6e"><path d="M9,8 L14,8 L15.5,19.5 L12,20.5 L6.2,14 Z" fill="#d6d6d6" stroke="none"/><path d="M6.3,7.4 H19.4 V20.4 H6.3 Z" fill="none" stroke-dasharray="2.2 1.6" stroke-width="1.1"/><path d="M5.8,11.8 V20 L8,18 L9.5,21.2 L10.8,20.6 L9.4,17.5 L12.6,17.2 Z" fill="#fff" stroke-linejoin="round"/></g></svg>
<div class="t" style="left:1688.30px;top:179px;font-size:14.3px;color:#6e6e6e;">Select All</div>
<svg class="abs" style="left:1655px;top:220.0px" width="26" height="26" viewBox="0 0 26 26"><g stroke="#d5d5d5" stroke-width="1" fill="#d5d5d5"><rect x="5.1" y="6.5" width="6.4" height="6.4" fill="none"/><rect x="14.3" y="6.5" width="6.4" height="6.4" fill="none"/><rect x="5.1" y="15" width="6.4" height="6.4" fill="none"/><rect x="14.3" y="15" width="6.4" height="6.4" fill="none"/><path d="M5.5,10.5 L9.5,6.8 M7.5,12.6 L11.2,9 M15.8,8.3 H19 V9.8 H15.8 V11.2 H19.5 M5.3,20.2 L7.8,17.2 L9.6,19 L11.3,17.4 M16,16.6 H20.6 M16,16.6 V21.2" fill="none" stroke-width="0.8"/></g></svg>
<div class="t" style="left:1688.30px;top:227px;font-size:14.3px;color:#d5d5d5;">Change Basemap</div>
<svg class="abs" style="left:1655px;top:268.0px" width="26" height="26" viewBox="0 0 26 26"><g stroke="#d5d5d5" stroke-width="1" fill="#d5d5d5"><circle cx="6.6" cy="7.6" r="1.4" fill="none"/><path d="M9,8.6 L11,10.2 L10.8,12" fill="none"/><circle cx="13.7" cy="15" r="1.3" fill="none"/><circle cx="18.3" cy="15.7" r="1.3" fill="none"/><circle cx="14.8" cy="19.4" r="1.3" fill="none"/><path d="M15,15.2 L17,15.5 M14.2,16.3 L14.6,18.1" fill="none"/></g></svg>
<div class="t" style="left:1688.30px;top:275px;font-size:14.3px;color:#d5d5d5;">Expand from Selection</div>
<svg class="abs" style="left:1655px;top:316.0px" width="26" height="26" viewBox="0 0 26 26"><g stroke="#6e6e6e" stroke-width="1" fill="#6e6e6e"><path d="M6.5,7.3 H19.5 V9.1 L15.8,12.4 L14.7,20.1 Q14.5,20.7 13.1,20.7 Q11.7,20.7 11.5,20.1 L10.3,12.4 L6.5,9.1 Z" fill="none" stroke-linejoin="round"/><path d="M6.5,9.1 H19.5 M10.3,12.4 H15.8" fill="none"/></g></svg>
<div class="t" style="left:1688.30px;top:323px;font-size:14.3px;color:#6e6e6e;">Filtered Expand</div>
<svg class="abs" style="left:1655px;top:364.0px" width="26" height="26" viewBox="0 0 26 26"><g stroke="#6e6e6e" stroke-width="1" fill="#6e6e6e"><circle cx="17.9" cy="8.8" r="2.8" stroke="none"/><circle cx="8" cy="19" r="2.4" fill="none"/><path d="M9.8,17.2 L16,10.7" fill="none"/></g></svg>
<div class="t" style="left:1688.30px;top:371px;font-size:14.3px;color:#6e6e6e;">Layout Options</div>
<svg class="abs" style="left:1655px;top:412.0px" width="26" height="26" viewBox="0 0 26 26"><g stroke="#d5d5d5" stroke-width="1" fill="#d5d5d5"><rect x="6.3" y="6.5" width="4.2" height="3.8" fill="none"/><path d="M10.5,8.3 H16.7 M7.5,10.6 L5.4,16.7 M14,15.2 L18.9,19.7 M18.9,15.2 L14,19.7" fill="none"/></g></svg>
<div class="t" style="left:1688.30px;top:419px;font-size:14.3px;color:#d5d5d5;">Remove Selection</div>
<svg class="abs" style="left:1655px;top:460.0px" width="26" height="26" viewBox="0 0 26 26"><g stroke="#6e6e6e" stroke-width="1" fill="#6e6e6e"><path d="M7.2,10.3 L10.8,13.8 L7.2,17.3 M12.5,10.3 L16.1,13.8 L12.5,17.3" fill="none" stroke-width="1.2"/></g></svg>
<div class="t" style="left:1688.30px;top:467px;font-size:14.3px;color:#6e6e6e;">Collapse</div>
<div class="abs" style="left:406px;top:595px;width:1452px;height:40px;background:#fff"></div>
<div class="t" style="left:454.30px;top:607px;font-size:14px;color:#4a4a4a;">Person (Total: 10 | Selection: 0)</div>
<div class="t" style="left:1574.00px;top:606px;font-size:14.05px;color:#6e3fd9;">Extent Filter</div>
<div class="abs" style="left:1653px;top:606px;width:32px;height:16px;border-radius:8px;background:#5a2fcf"></div>
<div class="abs" style="left:1670.5px;top:608.5px;width:11px;height:11px;border-radius:50%;background:#fff"></div>
<div class="t" style="left:1721.00px;top:606px;font-size:14.05px;color:#6e3fd9;">Close Table</div>
<svg class="abs" style="left:1829px;top:612px" width="18" height="6" viewBox="0 0 18 6"><g fill="#151515"><circle cx="2.6" cy="3" r="1.6"/><circle cx="9" cy="3" r="1.6"/><circle cx="15.4" cy="3" r="1.6"/></g></svg>
<div class="abs" style="left:406px;top:635px;width:1450px;height:282px;background:#fff;border:1px solid #6b6b6b;overflow:hidden">
<div class="abs" style="left:57px;top:0;width:1px;height:282px;background:#ececec"></div>
<div class="abs" style="left:257px;top:0;width:1px;height:282px;background:#ececec"></div>
<div class="abs" style="left:457px;top:0;width:1px;height:282px;background:#ececec"></div>
<div class="abs" style="left:657px;top:0;width:1px;height:282px;background:#ececec"></div>
<div class="abs" style="left:857px;top:0;width:1px;height:282px;background:#ececec"></div>
<div class="abs" style="left:1057px;top:0;width:1px;height:282px;background:#ececec"></div>
<div class="abs" style="left:1257px;top:0;width:1px;height:282px;background:#ececec"></div>
<div class="abs" style="left:0;top:35px;width:1450px;height:1px;background:#ececec"></div>
<div class="abs" style="left:0;top:65px;width:1450px;height:1px;background:#f0f0f0"></div>
<div class="abs" style="left:0;top:95px;width:1450px;height:1px;background:#f0f0f0"></div>
<div class="abs" style="left:0;top:125px;width:1450px;height:1px;background:#f0f0f0"></div>
<div class="abs" style="left:0;top:155px;width:1450px;height:1px;background:#f0f0f0"></div>
<div class="abs" style="left:0;top:185px;width:1450px;height:1px;background:#f0f0f0"></div>
<div class="abs" style="left:0;top:215px;width:1450px;height:1px;background:#f0f0f0"></div>
<div class="abs" style="left:0;top:245px;width:1450px;height:1px;background:#f0f0f0"></div>
<div class="abs" style="left:0;top:275px;width:1450px;height:1px;background:#f0f0f0"></div>
<div class="t" style="left:63.20px;top:9px;font-size:14.2px;color:#4a4a4a;letter-spacing:0.2px;">name</div>
<svg class="abs" style="left:211px;top:9px" width="8" height="14" viewBox="0 0 8 14"><path d="M4,1.5 L7,5.5 H1 Z M4,12.5 L7,8.5 H1 Z" fill="#8690a0"/></svg>
<svg class="abs" style="left:232px;top:15px" width="18" height="6" viewBox="0 0 18 6"><g fill="#151515"><circle cx="2.6" cy="3" r="1.6"/><circle cx="9" cy="3" r="1.6"/><circle cx="15.4" cy="3" r="1.6"/></g></svg>
<div class="t" style="left:263.20px;top:9px;font-size:14.2px;color:#4a4a4a;letter-spacing:0.2px;">phoneNumber</div>
<svg class="abs" style="left:411px;top:9px" width="8" height="14" viewBox="0 0 8 14"><path d="M4,1.5 L7,5.5 H1 Z M4,12.5 L7,8.5 H1 Z" fill="#8690a0"/></svg>
<svg class="abs" style="left:432px;top:15px" width="18" height="6" viewBox="0 0 18 6"><g fill="#151515"><circle cx="2.6" cy="3" r="1.6"/><circle cx="9" cy="3" r="1.6"/><circle cx="15.4" cy="3" r="1.6"/></g></svg>
<div class="t" style="left:463.20px;top:9px;font-size:14.2px;color:#4a4a4a;letter-spacing:0.2px;">firstName</div>
<svg class="abs" style="left:611px;top:9px" width="8" height="14" viewBox="0 0 8 14"><path d="M4,1.5 L7,5.5 H1 Z M4,12.5 L7,8.5 H1 Z" fill="#8690a0"/></svg>
<svg class="abs" style="left:632px;top:15px" width="18" height="6" viewBox="0 0 18 6"><g fill="#151515"><circle cx="2.6" cy="3" r="1.6"/><circle cx="9" cy="3" r="1.6"/><circle cx="15.4" cy="3" r="1.6"/></g></svg>
<div class="t" style="left:663.20px;top:9px;font-size:14.2px;color:#4a4a4a;letter-spacing:0.2px;">lastName</div>
<svg class="abs" style="left:811px;top:9px" width="8" height="14" viewBox="0 0 8 14"><path d="M4,1.5 L7,5.5 H1 Z M4,12.5 L7,8.5 H1 Z" fill="#8690a0"/></svg>
<svg class="abs" style="left:832px;top:15px" width="18" height="6" viewBox="0 0 18 6"><g fill="#151515"><circle cx="2.6" cy="3" r="1.6"/><circle cx="9" cy="3" r="1.6"/><circle cx="15.4" cy="3" r="1.6"/></g></svg>
<div class="t" style="left:863.20px;top:9px;font-size:14.2px;color:#4a4a4a;letter-spacing:0.2px;">objectid</div>
<svg class="abs" style="left:1011px;top:9px" width="8" height="14" viewBox="0 0 8 14"><path d="M4,1.5 L7,5.5 H1 Z M4,12.5 L7,8.5 H1 Z" fill="#8690a0"/></svg>
<svg class="abs" style="left:1032px;top:15px" width="18" height="6" viewBox="0 0 18 6"><g fill="#151515"><circle cx="2.6" cy="3" r="1.6"/><circle cx="9" cy="3" r="1.6"/><circle cx="15.4" cy="3" r="1.6"/></g></svg>
<div class="t" style="left:1063.20px;top:9px;font-size:14.2px;color:#4a4a4a;letter-spacing:0.2px;">globalid</div>
<svg class="abs" style="left:1211px;top:9px" width="8" height="14" viewBox="0 0 8 14"><path d="M4,1.5 L7,5.5 H1 Z M4,12.5 L7,8.5 H1 Z" fill="#8690a0"/></svg>
<svg class="abs" style="left:1232px;top:15px" width="18" height="6" viewBox="0 0 18 6"><g fill="#151515"><circle cx="2.6" cy="3" r="1.6"/><circle cx="9" cy="3" r="1.6"/><circle cx="15.4" cy="3" r="1.6"/></g></svg>
<div class="t" style="left:1263.20px;top:9px;font-size:14.2px;color:#4a4a4a;letter-spacing:0.2px;">ESRI<span style="letter-spacing:-2.3px">__</span><span style="margin-left:2.3px">ID</span></div>
<svg class="abs" style="left:1411px;top:9px" width="8" height="14" viewBox="0 0 8 14"><path d="M4,1.5 L7,5.5 H1 Z M4,12.5 L7,8.5 H1 Z" fill="#8690a0"/></svg>
<svg class="abs" style="left:1432px;top:15px" width="18" height="6" viewBox="0 0 18 6"><g fill="#151515"><circle cx="2.6" cy="3" r="1.6"/><circle cx="9" cy="3" r="1.6"/><circle cx="15.4" cy="3" r="1.6"/></g></svg>
<div class="abs" style="left:20px;top:42px;width:18px;height:18px;border-radius:3.5px;background:#6b6b6b"></div>
<div class="abs" style="left:58px;top:42px;width:199px;height:16px;overflow:hidden"><div class="t" style="left:0.00px;top:0px;font-size:14.3px;color:#4a4a4a;letter-spacing:0.1px;">Larry</div></div>
<div class="abs" style="left:258px;top:42px;width:199px;height:16px;overflow:hidden"><div class="t" style="left:0.00px;top:0px;font-size:14.3px;color:#4a4a4a;letter-spacing:0.1px;">984-312-0254</div></div>
<div class="abs" style="left:458px;top:42px;width:199px;height:16px;overflow:hidden"><div class="t" style="left:0.00px;top:0px;font-size:14.3px;color:#4a4a4a;letter-spacing:0.1px;">Larry</div></div>
<div class="abs" style="left:658px;top:42px;width:199px;height:16px;overflow:hidden"><div class="t" style="left:0.00px;top:0px;font-size:14.3px;color:#4a4a4a;letter-spacing:0.1px;">Smith</div></div>
<div class="abs" style="left:858px;top:42px;width:199px;height:16px;overflow:hidden"><div class="t" style="left:0.00px;top:0px;font-size:14.3px;color:#4a4a4a;letter-spacing:0.1px;">1,002</div></div>
<div class="abs" style="left:1058px;top:42px;width:199px;height:16px;overflow:hidden"><div class="t" style="left:0.00px;top:0px;font-size:14.0px;color:#4a4a4a;letter-spacing:0px;">{9E816765-8E76-43C9-843D…</div></div>
<div class="abs" style="left:1258px;top:42px;width:183px;height:16px;overflow:hidden"><div class="t" style="left:0.00px;top:0px;font-size:14.0px;color:#555;letter-spacing:0px;">{9E816765-8E76-43C9-843D</div></div>
<div class="abs" style="left:20px;top:72px;width:18px;height:18px;border-radius:3.5px;background:#6b6b6b"></div>
<div class="abs" style="left:58px;top:72px;width:199px;height:16px;overflow:hidden"><div class="t" style="left:0.00px;top:0px;font-size:14.3px;color:#4a4a4a;letter-spacing:0.1px;">Lilith</div></div>
<div class="abs" style="left:258px;top:72px;width:199px;height:16px;overflow:hidden"><div class="t" style="left:0.00px;top:0px;font-size:14.3px;color:#4a4a4a;letter-spacing:0.1px;">999-666-9696</div></div>
<div class="abs" style="left:458px;top:72px;width:199px;height:16px;overflow:hidden"><div class="t" style="left:0.00px;top:0px;font-size:14.3px;color:#4a4a4a;letter-spacing:0.1px;">Lilith</div></div>
<div class="abs" style="left:658px;top:72px;width:199px;height:16px;overflow:hidden"><div class="t" style="left:0.00px;top:0px;font-size:14.3px;color:#4a4a4a;letter-spacing:0.1px;">Hadeston</div></div>
<div class="abs" style="left:858px;top:72px;width:199px;height:16px;overflow:hidden"><div class="t" style="left:0.00px;top:0px;font-size:14.3px;color:#4a4a4a;letter-spacing:0.1px;">1,003</div></div>
<div class="abs" style="left:1058px;top:72px;width:199px;height:16px;overflow:hidden"><div class="t" style="left:0.00px;top:0px;font-size:14.0px;color:#4a4a4a;letter-spacing:0px;">{1A1A9711-85E0-4B09-BE2…</div></div>
<div class="abs" style="left:1258px;top:72px;width:183px;height:16px;overflow:hidden"><div class="t" style="left:0.00px;top:0px;font-size:14.0px;color:#555;letter-spacing:0px;">{1A1A9711-85E0-4B09-BE23</div></div>
<div class="abs" style="left:20px;top:102px;width:18px;height:18px;border-radius:3.5px;background:#6b6b6b"></div>
<div class="abs" style="left:58px;top:102px;width:199px;height:16px;overflow:hidden"><div class="t" style="left:0.00px;top:0px;font-size:14.3px;color:#4a4a4a;letter-spacing:0.1px;">Uri</div></div>
<div class="abs" style="left:258px;top:102px;width:199px;height:16px;overflow:hidden"><div class="t" style="left:0.00px;top:0px;font-size:14.3px;color:#4a4a4a;letter-spacing:0.1px;">578-654-7854</div></div>
<div class="abs" style="left:458px;top:102px;width:199px;height:16px;overflow:hidden"><div class="t" style="left:0.00px;top:0px;font-size:14.3px;color:#4a4a4a;letter-spacing:0.1px;">Uriel</div></div>
<div class="abs" style="left:658px;top:102px;width:199px;height:16px;overflow:hidden"><div class="t" style="left:0.00px;top:0px;font-size:14.3px;color:#4a4a4a;letter-spacing:0.1px;">Vanberson</div></div>
<div class="abs" style="left:858px;top:102px;width:199px;height:16px;overflow:hidden"><div class="t" style="left:0.00px;top:0px;font-size:14.3px;color:#4a4a4a;letter-spacing:0.1px;">5</div></div>
<div class="abs" style="left:1058px;top:102px;width:199px;height:16px;overflow:hidden"><div class="t" style="left:0.00px;top:0px;font-size:14.0px;color:#4a4a4a;letter-spacing:0px;">{DE11951B-C557-4A33-B9B…</div></div>
<div class="abs" style="left:1258px;top:102px;width:183px;height:16px;overflow:hidden"><div class="t" style="left:0.00px;top:0px;font-size:14.0px;color:#555;letter-spacing:0px;">{DE11951B-C557-4A33-B9B.</div></div>
<div class="abs" style="left:20px;top:132px;width:18px;height:18px;border-radius:3.5px;background:#6b6b6b"></div>
<div class="abs" style="left:58px;top:132px;width:199px;height:16px;overflow:hidden"><div class="t" style="left:0.00px;top:0px;font-size:14.3px;color:#4a4a4a;letter-spacing:0.1px;">Persie</div></div>
<div class="abs" style="left:258px;top:132px;width:199px;height:16px;overflow:hidden"><div class="t" style="left:0.00px;top:0px;font-size:14.3px;color:#4a4a4a;letter-spacing:0.1px;">666-666-6666</div></div>
<div class="abs" style="left:458px;top:132px;width:199px;height:16px;overflow:hidden"><div class="t" style="left:0.00px;top:0px;font-size:14.3px;color:#4a4a4a;letter-spacing:0.1px;">Persephone</div></div>
<div class="abs" style="left:658px;top:132px;width:199px;height:16px;overflow:hidden"><div class="t" style="left:0.00px;top:0px;font-size:14.3px;color:#4a4a4a;letter-spacing:0.1px;">Souterre</div></div>
<div class="abs" style="left:858px;top:132px;width:199px;height:16px;overflow:hidden"><div class="t" style="left:0.00px;top:0px;font-size:14.3px;color:#4a4a4a;letter-spacing:0.1px;">6</div></div>
<div class="abs" style="left:1058px;top:132px;width:199px;height:16px;overflow:hidden"><div class="t" style="left:0.00px;top:0px;font-size:14.0px;color:#4a4a4a;letter-spacing:0px;">{158827EC-6354-499B-B6D…</div></div>
<div class="abs" style="left:1258px;top:132px;width:183px;height:16px;overflow:hidden"><div class="t" style="left:0.00px;top:0px;font-size:14.0px;color:#555;letter-spacing:0px;">{158827EC-6354-499B-B6D.</div></div>
<div class="abs" style="left:20px;top:162px;width:18px;height:18px;border-radius:3.5px;background:#6b6b6b"></div>
<div class="abs" style="left:58px;top:162px;width:199px;height:16px;overflow:hidden"><div class="t" style="left:0.00px;top:0px;font-size:14.3px;color:#4a4a4a;letter-spacing:0.1px;">Angie</div></div>
<div class="abs" style="left:258px;top:162px;width:199px;height:16px;overflow:hidden"><div class="t" style="left:0.00px;top:0px;font-size:14.3px;color:#4a4a4a;letter-spacing:0.1px;">620-842-3005</div></div>
<div class="abs" style="left:458px;top:162px;width:199px;height:16px;overflow:hidden"><div class="t" style="left:0.00px;top:0px;font-size:14.3px;color:#4a4a4a;letter-spacing:0.1px;">Angela</div></div>
<div class="abs" style="left:658px;top:162px;width:199px;height:16px;overflow:hidden"><div class="t" style="left:0.00px;top:0px;font-size:14.3px;color:#4a4a4a;letter-spacing:0.1px;">Wilson</div></div>
<div class="abs" style="left:858px;top:162px;width:199px;height:16px;overflow:hidden"><div class="t" style="left:0.00px;top:0px;font-size:14.3px;color:#4a4a4a;letter-spacing:0.1px;">1,004</div></div>
<div class="abs" style="left:1058px;top:162px;width:199px;height:16px;overflow:hidden"><div class="t" style="left:0.00px;top:0px;font-size:14.0px;color:#4a4a4a;letter-spacing:0px;">{A0F6BF5F-6CA8-49CB-B47…</div></div>
<div class="abs" style="left:1258px;top:162px;width:183px;height:16px;overflow:hidden"><div class="t" style="left:0.00px;top:0px;font-size:14.0px;color:#555;letter-spacing:0px;">{A0F6BF5F-6CA8-49CB-B47.</div></div>
<div class="abs" style="left:20px;top:192px;width:18px;height:18px;border-radius:3.5px;background:#6b6b6b"></div>
<div class="abs" style="left:58px;top:192px;width:199px;height:16px;overflow:hidden"><div class="t" style="left:0.00px;top:0px;font-size:14.3px;color:#4a4a4a;letter-spacing:0.1px;">Lauren</div></div>
<div class="abs" style="left:258px;top:192px;width:199px;height:16px;overflow:hidden"><div class="t" style="left:0.00px;top:0px;font-size:14.3px;color:#4a4a4a;letter-spacing:0.1px;">859-784-2185</div></div>
<div class="abs" style="left:458px;top:192px;width:199px;height:16px;overflow:hidden"><div class="t" style="left:0.00px;top:0px;font-size:14.3px;color:#4a4a4a;letter-spacing:0.1px;">Lauren</div></div>
<div class="abs" style="left:658px;top:192px;width:199px;height:16px;overflow:hidden"><div class="t" style="left:0.00px;top:0px;font-size:14.3px;color:#4a4a4a;letter-spacing:0.1px;">Jones</div></div>
<div class="abs" style="left:858px;top:192px;width:199px;height:16px;overflow:hidden"><div class="t" style="left:0.00px;top:0px;font-size:14.3px;color:#4a4a4a;letter-spacing:0.1px;">1</div></div>
<div class="abs" style="left:1058px;top:192px;width:199px;height:16px;overflow:hidden"><div class="t" style="left:0.00px;top:0px;font-size:14.0px;color:#4a4a4a;letter-spacing:0px;">{4F78A336-9AE4-4C99-A4D…</div></div>
<div class="abs" style="left:1258px;top:192px;width:183px;height:16px;overflow:hidden"><div class="t" style="left:0.00px;top:0px;font-size:14.0px;color:#555;letter-spacing:0px;">{4F78A336-9AE4-4C99-A4D</div></div>
<div class="abs" style="left:20px;top:222px;width:18px;height:18px;border-radius:3.5px;background:#6b6b6b"></div>
<div class="abs" style="left:58px;top:222px;width:199px;height:16px;overflow:hidden"><div class="t" style="left:0.00px;top:0px;font-size:14.3px;color:#4a4a4a;letter-spacing:0.1px;">Etta</div></div>
<div class="abs" style="left:258px;top:222px;width:199px;height:16px;overflow:hidden"><div class="t" style="left:0.00px;top:0px;font-size:14.3px;color:#4a4a4a;letter-spacing:0.1px;">846-956-8644</div></div>
<div class="abs" style="left:458px;top:222px;width:199px;height:16px;overflow:hidden"><div class="t" style="left:0.00px;top:0px;font-size:14.3px;color:#4a4a4a;letter-spacing:0.1px;">Lauretta</div></div>
<div class="abs" style="left:658px;top:222px;width:199px;height:16px;overflow:hidden"><div class="t" style="left:0.00px;top:0px;font-size:14.3px;color:#4a4a4a;letter-spacing:0.1px;">Lynne-Jones</div></div>
<div class="abs" style="left:858px;top:222px;width:199px;height:16px;overflow:hidden"><div class="t" style="left:0.00px;top:0px;font-size:14.3px;color:#4a4a4a;letter-spacing:0.1px;">1,001</div></div>
<div class="abs" style="left:1058px;top:222px;width:199px;height:16px;overflow:hidden"><div class="t" style="left:0.00px;top:0px;font-size:14.0px;color:#4a4a4a;letter-spacing:0px;">{EBA51FB5-A493-46F6-B5D…</div></div>
<div class="abs" style="left:1258px;top:222px;width:183px;height:16px;overflow:hidden"><div class="t" style="left:0.00px;top:0px;font-size:14.0px;color:#555;letter-spacing:0px;">{EBA51FB5-A493-46F6-B5D.</div></div>
<div class="abs" style="left:20px;top:252px;width:18px;height:18px;border-radius:3.5px;background:#6b6b6b"></div>
<div class="abs" style="left:58px;top:252px;width:199px;height:16px;overflow:hidden"><div class="t" style="left:0.00px;top:0px;font-size:14.3px;color:#4a4a4a;letter-spacing:0.1px;">Joe</div></div>
<div class="abs" style="left:258px;top:252px;width:199px;height:16px;overflow:hidden"><div class="t" style="left:0.00px;top:0px;font-size:14.3px;color:#4a4a4a;letter-spacing:0.1px;">759-889-57168</div></div>
<div class="abs" style="left:458px;top:252px;width:199px;height:16px;overflow:hidden"><div class="t" style="left:0.00px;top:0px;font-size:14.3px;color:#4a4a4a;letter-spacing:0.1px;">John</div></div>
<div class="abs" style="left:658px;top:252px;width:199px;height:16px;overflow:hidden"><div class="t" style="left:0.00px;top:0px;font-size:14.3px;color:#4a4a4a;letter-spacing:0.1px;">Doe</div></div>
<div class="abs" style="left:858px;top:252px;width:199px;height:16px;overflow:hidden"><div class="t" style="left:0.00px;top:0px;font-size:14.3px;color:#4a4a4a;letter-spacing:0.1px;">4</div></div>
<div class="abs" style="left:1058px;top:252px;width:199px;height:16px;overflow:hidden"><div class="t" style="left:0.00px;top:0px;font-size:14.0px;color:#4a4a4a;letter-spacing:0px;">{DBE67B32-B9C8-4697-B2A…</div></div>
<div class="abs" style="left:1258px;top:252px;width:183px;height:16px;overflow:hidden"><div class="t" style="left:0.00px;top:0px;font-size:14.0px;color:#555;letter-spacing:0px;">{DBE67B32-B9C8-4697-B2A</div></div>
<div class="abs" style="left:1441px;top:1px;width:9px;height:219px;border-radius:5px;background:#d9d9d9"></div>
<div class="abs" style="left:1439px;top:0;width:12px;height:282px;background:transparent"></div>
<div class="abs" style="left:1px;top:272px;width:1249px;height:10px;border-radius:5px;background:#dedede"></div>
</div>
<div class="abs" style="left:406px;top:919px;width:1452px;height:40px;background:#fff"></div>
<svg class="abs" style="left:414px;top:932px" width="17" height="17" viewBox="0 0 17 17"><g transform="scale(0.667)" fill="#fff" stroke="#555" stroke-width="1.4"><path d="M14.4,6.25 L6.25,12.3 M14.4,6.25 L23.75,10.3 M14.4,6.25 L15.5,14.4 M6.25,12.3 L15.5,14.4 M6.25,12.3 L8.3,21.6 M23.75,10.3 L15.5,14.4 M23.75,10.3 L20.3,23.6 M15.5,14.4 L8.3,21.6 M15.5,14.4 L20.3,23.6 M8.3,21.6 L20.3,23.6" fill="none"/><circle cx="14.4" cy="6.25" r="2.1"/><circle cx="23.75" cy="10.3" r="2.1"/><circle cx="6.25" cy="12.3" r="2.1"/><circle cx="15.5" cy="14.4" r="1.9"/><circle cx="8.3" cy="21.6" r="2.1"/><circle cx="20.3" cy="23.6" r="2.1"/></g></svg>
<div class="t" style="left:440.30px;top:933px;font-size:14.5px;color:#6a6a6a;letter-spacing:0px;">Knowledge Graph</div>
<svg class="abs" style="left:570px;top:936px" width="10" height="10" viewBox="0 0 10 10"><path d="M1,1 L9,9 M9,1 L1,9" stroke="#6a6a6a" stroke-width="1"/></svg>
<svg class="abs" style="left:614px;top:932px" width="17" height="17" viewBox="0 0 17 17"><g fill="none" stroke="#555" stroke-width="1"><path d="M4.2,15.6 A7,7 0 1 1 15.4,15.6"/><path d="M9.8,11.8 L14,6.5"/><circle cx="9.3" cy="12.4" r="1.1"/><path d="M9.8,3.2 V4.6 M4.5,6.3 L5.4,7.1 M3.2,11 H4.4"/><path d="M13.9,15.7 L15.4,15.6 L15.6,14.2"/></g></svg>
<div class="t" style="left:639.00px;top:933px;font-size:14.5px;color:#6a6a6a;letter-spacing:0px;">Dashboard</div>
<svg class="abs" style="left:722.6px;top:936px" width="10" height="10" viewBox="0 0 10 10"><path d="M1,1 L9,9 M9,1 L1,9" stroke="#6a6a6a" stroke-width="1"/></svg>
<svg class="abs" style="left:767px;top:932px" width="17" height="17" viewBox="0 0 17 17"><g fill="#fff" stroke="#555" stroke-width="0.95"><path d="M3,9.2 H12.6 M4.5,9.2 C6.5,9.2 7,4.7 9.1,4.7 M4.5,9.2 C6.5,9.2 7,13.8 9.1,13.8" fill="none"/><circle cx="10.5" cy="4.7" r="1.45"/><circle cx="14" cy="9.2" r="1.45"/><circle cx="10.5" cy="13.8" r="1.45"/></g><circle cx="2.7" cy="9.2" r="1.7" fill="#555"/></svg>
<div class="t" style="left:792.30px;top:933px;font-size:14.5px;color:#6a6a6a;letter-spacing:-0.3px;">Link Chart</div>
<svg class="abs" style="left:869px;top:936px" width="10" height="10" viewBox="0 0 10 10"><path d="M1,1 L9,9 M9,1 L1,9" stroke="#6a6a6a" stroke-width="1"/></svg>
<svg class="abs" style="left:914px;top:932px" width="17" height="17" viewBox="0 0 17 17"><g fill="none" stroke="#555" stroke-width="1"><rect x="1.5" y="2.5" width="13.4" height="13.2"/><path d="M11.5,3 C11.5,5 9.5,5.5 8.5,7 C7.5,8.5 8,10 6,10.5 C4.5,11 3.5,12.5 4.5,15.5 M14.8,12.5 C12.5,12.2 11.5,13.5 11.2,15.6"/></g></svg>
<div class="t" style="left:938.50px;top:933px;font-size:14.5px;color:#6a6a6a;letter-spacing:0px;">Map</div>
<svg class="abs" style="left:980px;top:936px" width="10" height="10" viewBox="0 0 10 10"><path d="M1,1 L9,9 M9,1 L1,9" stroke="#6a6a6a" stroke-width="1"/></svg>
<svg class="abs" style="left:1024.5px;top:932px" width="17" height="17" viewBox="0 0 17 17"><g fill="none" stroke="#555" stroke-width="1"><rect x="1.3" y="2.4" width="15.2" height="13"/><path d="M1.3,4.4 H16.5"/><circle cx="6" cy="8.4" r="1.6"/><path d="M3.3,13 C3.3,10.6 8.7,10.6 8.7,13 Z M10.5,8 H14.6 M10.5,10 H14.6 M10.5,12 H13"/></g></svg>
<div class="t" style="left:1049.70px;top:933px;font-size:14.5px;color:#6a6a6a;letter-spacing:-0.4px;">Data Card</div>
<svg class="abs" style="left:1126.2px;top:936px" width="10" height="10" viewBox="0 0 10 10"><path d="M1,1 L9,9 M9,1 L1,9" stroke="#6a6a6a" stroke-width="1"/></svg>
<svg class="abs" style="left:1170px;top:932px" width="17" height="17" viewBox="0 0 17 17"><g fill="#fff" stroke="#2b2b2b" stroke-width="0.95"><path d="M3,9.2 H12.6 M4.5,9.2 C6.5,9.2 7,4.7 9.1,4.7 M4.5,9.2 C6.5,9.2 7,13.8 9.1,13.8" fill="none"/><circle cx="10.5" cy="4.7" r="1.45"/><circle cx="14" cy="9.2" r="1.45"/><circle cx="10.5" cy="13.8" r="1.45"/></g><circle cx="2.7" cy="9.2" r="1.7" fill="#2b2b2b"/></svg>
<div class="t" style="left:1195.70px;top:933px;font-size:14.5px;color:#2b2b2b;letter-spacing:-0.27px;">Link Chart 2</div>
<svg class="abs" style="left:1285px;top:936px" width="10" height="10" viewBox="0 0 10 10"><path d="M1,1 L9,9 M9,1 L1,9" stroke="#2b2b2b" stroke-width="1"/></svg>
<div class="abs" style="left:1167px;top:920px;width:138px;height:2px;background:#5522cc"></div>
</body></html>
